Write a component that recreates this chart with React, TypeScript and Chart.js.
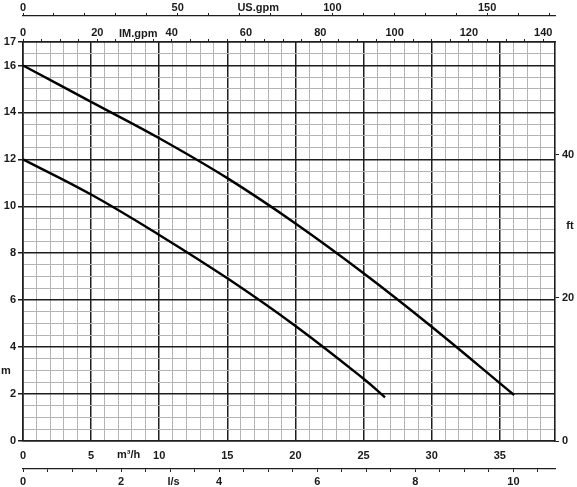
import React, { useEffect, useRef } from 'react';
import { Chart, registerables } from 'chart.js';

Chart.register(...registerables);

// Primary axes
const flowMax = 39.05; // m3/h at right edge
const headMax = 17; // m at top edge
const M3H_PER_IMGPM = 0.272765;
const M3H_PER_USGPM = 0.227125;
const M3H_PER_LS = 3.6;
const FT_PER_M = 3.28084;

// Tick label values
const flowLabels = [0, 5, 10, 15, 20, 25, 30, 35];
const headLabels = [0, 2, 4, 6, 8, 10, 12, 14, 16, 17];
const imLabels = [0, 20, 40, 60, 80, 100, 120, 140];
const usLabels = [0, 50, 100, 150];
const lsLabels = [0, 2, 4, 6, 8, 10];
const ftLabels = [0, 20, 40];

// Curves (flow m3/h, head m)
const upperFlow = [0, 5, 10, 15, 20, 25, 30, 36.05];
const upperHead = [16.0, 14.45, 12.9, 11.2, 9.27, 7.15, 4.87, 1.96];
const lowerFlow = [0, 5, 10, 15, 20, 25, 26.57];
const lowerHead = [12.0, 10.5, 8.78, 6.93, 4.9, 2.65, 1.86];

const FONT = { family: '"Liberation Sans", Arial, sans-serif', size: 11, weight: 'bold' as const };
const DARK = '#1e1e1e';
const LIGHT = '#b4b4b4';
const TEXT = '#1a1a1a';

const range = (start: number, end: number, step: number) => {
  const out: number[] = [];
  for (let v = start; v <= end + 1e-9; v += step) out.push(Math.round(v * 1000) / 1000);
  return out;
};
const near = (a: number, b: number) => Math.abs(a - b) < 1e-6;
const inList = (list: number[], v: number) => list.some((l) => near(l, v));

const setTicks = (values: number[]) => (scale: any) => {
  scale.ticks = values.map((v) => ({ value: v }));
};

const unitLabels = {
  id: 'unitLabels',
  afterDraw(chart: any) {
    const ctx = chart.ctx;
    const s = chart.scales;
    ctx.save();
    ctx.font = 'bold 11px "Liberation Sans", Arial, sans-serif';
    ctx.fillStyle = TEXT;
    ctx.textAlign = 'center';
    ctx.textBaseline = 'middle';
    ctx.fillText('US.gpm', s.us.getPixelForValue(76), s.us.bottom - 8);
    ctx.fillText('IM.gpm', s.im.getPixelForValue(31), s.im.bottom - 8.5);
    ctx.fillText('m³/h', s.x.getPixelForValue(7.75), s.x.top + 14);
    ctx.fillText('l/s', s.ls.getPixelForValue(3.07), s.ls.top + 13);
    ctx.fillText('m', 6, s.y.getPixelForValue(3));
    ctx.fillText('ft', s.ft.right - 7, s.ft.getPixelForValue(30));
    ctx.restore();
  },
};

export default function App() {
  const ref = useRef<HTMLCanvasElement>(null);

  useEffect(() => {
    if (!ref.current) return;
    const upper = upperFlow.map((x, i) => ({ x, y: upperHead[i] }));
    const lower = lowerFlow.map((x, i) => ({ x, y: lowerHead[i] }));

    const chart = new Chart(ref.current, {
      type: 'line',
      data: {
        datasets: [
          {
            data: upper,
            borderColor: '#000',
            borderWidth: 2.4,
            pointRadius: 0,
            tension: 0.4,
            xAxisID: 'x',
            yAxisID: 'y',
          },
          {
            data: lower,
            borderColor: '#000',
            borderWidth: 2.4,
            pointRadius: 0,
            tension: 0.4,
            xAxisID: 'x',
            yAxisID: 'y',
          },
        ],
      },
      options: {
        animation: false,
        responsive: true,
        maintainAspectRatio: false,
        layout: { padding: 0 },
        plugins: { legend: { display: false }, tooltip: { enabled: false } },
        events: [],
        scales: {
          x: {
            type: 'linear',
            position: 'bottom',
            weight: 0,
            min: 0,
            max: flowMax,
            afterBuildTicks: setTicks(range(0, 39, 1)),
            afterFit: (s: any) => { s.height = 28; },
            ticks: {
              autoSkip: false,
              maxRotation: 0,
              padding: 8,
              color: TEXT,
              font: FONT,
              callback: (v: any) => (inList(flowLabels, Number(v)) ? String(v) : ''),
            },
            grid: {
              drawTicks: false,
              color: (c: any) => (c.tick && c.tick.value % 5 === 0 ? DARK : LIGHT),
              lineWidth: (c: any) => (c.tick && c.tick.value % 5 === 0 ? 1.5 : 1),
            },
            border: { display: true, color: DARK, width: 1.6 },
          },
          ls: {
            type: 'linear',
            position: 'bottom',
            weight: 1,
            min: 0,
            max: flowMax / M3H_PER_LS,
            afterBuildTicks: setTicks(range(0, 10.5, 0.5)),
            afterFit: (s: any) => { s.height = 18; },
            ticks: {
              autoSkip: false,
              maxRotation: 0,
              padding: 3,
              color: TEXT,
              font: FONT,
              callback: (v: any) => (inList(lsLabels, Number(v)) ? String(v) : ''),
            },
            grid: { drawOnChartArea: false, drawTicks: true, tickLength: 3, tickColor: DARK, tickWidth: 1 },
            border: { display: true, color: DARK, width: 1.3 },
          },
          im: {
            type: 'linear',
            position: 'top',
            weight: 0,
            min: 0,
            max: flowMax / M3H_PER_IMGPM,
            afterBuildTicks: setTicks(range(0, 140, 5)),
            afterFit: (s: any) => { s.height = 26; },
            ticks: {
              autoSkip: false,
              maxRotation: 0,
              padding: -1,
              color: TEXT,
              font: FONT,
              callback: (v: any) => (inList(imLabels, Number(v)) ? String(v) : ''),
            },
            grid: { drawOnChartArea: false, drawTicks: true, tickLength: 3, tickColor: DARK, tickWidth: 1 },
            border: { display: true, color: DARK, width: 1.6 },
          },
          us: {
            type: 'linear',
            position: 'top',
            weight: 1,
            min: 0,
            max: flowMax / M3H_PER_USGPM,
            afterBuildTicks: setTicks(range(0, 170, 10)),
            afterFit: (s: any) => { s.height = 16; },
            ticks: {
              autoSkip: false,
              maxRotation: 0,
              padding: -2,
              color: TEXT,
              font: FONT,
              callback: (v: any) => (inList(usLabels, Number(v)) ? String(v) : ''),
            },
            grid: { drawOnChartArea: false, drawTicks: true, tickLength: 3, tickColor: DARK, tickWidth: 1 },
            border: { display: true, color: DARK, width: 1.3 },
          },
          y: {
            type: 'linear',
            position: 'left',
            min: 0,
            max: headMax,
            afterBuildTicks: setTicks(range(0, 17, 0.5)),
            afterFit: (s: any) => { s.width = 23; },
            ticks: {
              autoSkip: false,
              padding: 2,
              color: TEXT,
              font: FONT,
              callback: (v: any) => (inList(headLabels, Number(v)) ? String(v) : ''),
            },
            grid: {
              drawTicks: true,
              tickLength: 5,
              color: (c: any) => (c.tick && (c.tick.value % 2 === 0 || c.tick.value === 17) ? DARK : LIGHT),
              lineWidth: (c: any) => (c.tick && (c.tick.value % 2 === 0 || c.tick.value === 17) ? 1.5 : 1),
              tickColor: (c: any) => (c.tick && inList(headLabels, c.tick.value) ? DARK : 'rgba(0,0,0,0)'),
            },
            border: { display: true, color: DARK, width: 1.6 },
          },
          ft: {
            type: 'linear',
            position: 'right',
            min: 0,
            max: headMax * FT_PER_M,
            afterBuildTicks: setTicks(ftLabels),
            afterFit: (s: any) => { s.width = 22; },
            ticks: {
              autoSkip: false,
              padding: 3,
              color: TEXT,
              font: FONT,
              callback: (v: any) => String(v),
            },
            grid: { drawOnChartArea: false, drawTicks: true, tickLength: 4, tickColor: DARK, tickWidth: 1 },
            border: { display: true, color: DARK, width: 1.6 },
          },
        },
      } as any,
      plugins: [unitLabels],
    });

    return () => chart.destroy();
  }, []);

  return (
    <div style={{ position: 'fixed', left: 0, top: 0, width: 577, height: 487, background: '#fff' }}>
      <canvas ref={ref} />
    </div>
  );
}
